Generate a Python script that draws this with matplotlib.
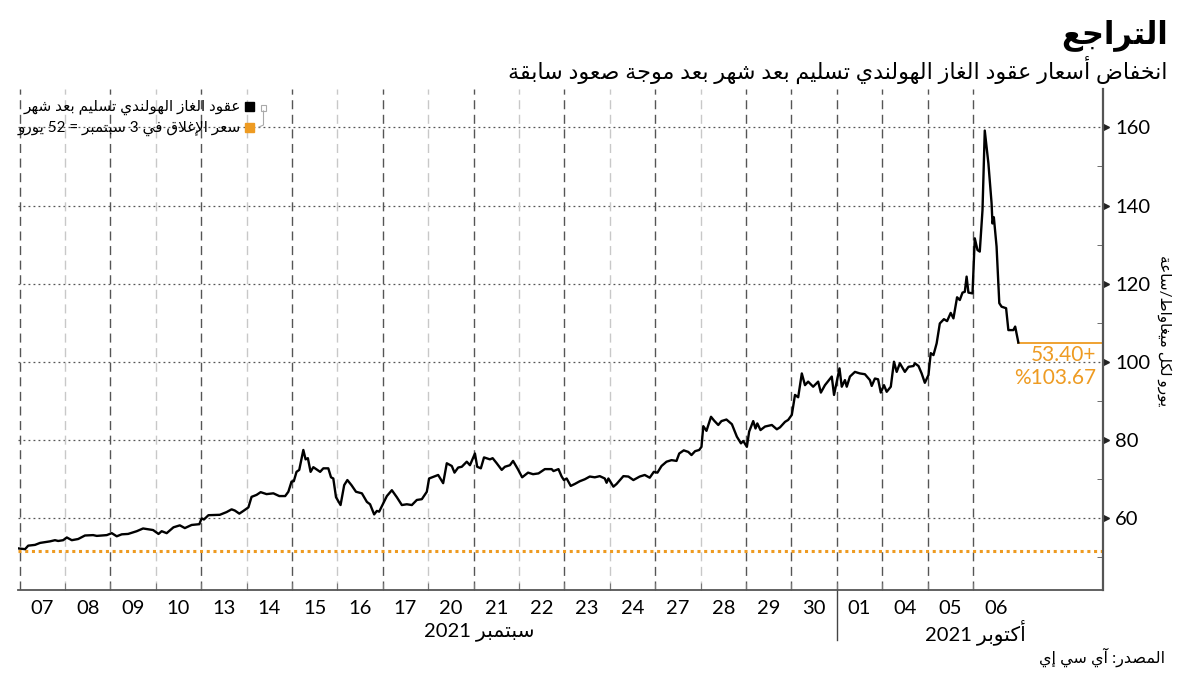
import re
import matplotlib
matplotlib.use("Agg")
import matplotlib.pyplot as plt
import matplotlib.transforms as mtransforms
from matplotlib.patches import Rectangle
from matplotlib.lines import Line2D
import numpy as np

# ---- data -------------------------------------------------------------
day_labels = ["07", "08", "09", "10", "13", "14", "15", "16", "17", "20", "21",
              "22", "23", "24", "27", "28", "29", "30", "01", "04", "05", "06"]
month_labels = ["سبتمبر 2021", "أكتوبر 2021"]
october_start = 18  # index of first October session

# position in trading days (0 = start of 07 Sep) and price in EUR/MWh
t = [-0.03, 0.12, 0.19, 0.34, 0.45, 0.56, 0.67, 0.78, 0.85, 0.96, 1.04, 1.15, 1.29, 1.44,
     1.62, 1.70, 1.92, 2.03, 2.14, 2.25, 2.39, 2.58, 2.72, 2.94, 3.06, 3.13, 3.24, 3.39,
     3.53, 3.64, 3.79, 3.96, 4.01, 4.06, 4.16, 4.41, 4.56, 4.67, 4.74, 4.84, 4.93, 5.04,
     5.11, 5.22, 5.31, 5.44, 5.59, 5.72, 5.85, 5.92, 5.99, 6.04, 6.10, 6.16, 6.25, 6.30,
     6.35, 6.41, 6.47, 6.62, 6.69, 6.80, 6.86, 6.91, 6.97, 7.07, 7.15, 7.22, 7.31, 7.41,
     7.54, 7.65, 7.72, 7.81, 7.87, 7.92, 7.98, 8.09, 8.20, 8.31, 8.42, 8.53, 8.64, 8.75,
     8.86, 8.97, 9.02, 9.11, 9.22, 9.33, 9.41, 9.52, 9.58, 9.66, 9.74, 9.85, 9.92, 10.03,
     10.08, 10.16, 10.23, 10.36, 10.42, 10.51, 10.62, 10.69, 10.80, 10.87, 10.98, 11.07,
     11.20, 11.31, 11.43, 11.57, 11.72, 11.76, 11.87, 11.94, 11.99, 12.05, 12.14, 12.23,
     12.34, 12.45, 12.56, 12.67, 12.78, 12.89, 12.93, 12.97, 13.08, 13.15, 13.30, 13.41,
     13.52, 13.66, 13.77, 13.88, 13.97, 14.05, 14.14, 14.25, 14.36, 14.47, 14.53, 14.63,
     14.73, 14.80, 14.88, 14.97, 15.02, 15.06, 15.13, 15.23, 15.30, 15.39, 15.46, 15.57,
     15.69, 15.80, 15.89, 15.94, 16.02, 16.07, 16.16, 16.21, 16.25, 16.32, 16.42, 16.57,
     16.68, 16.75, 16.86, 16.93, 17.01, 17.08, 17.15, 17.23, 17.30, 17.37, 17.48, 17.59,
     17.65, 17.74, 17.89, 17.94, 18.06, 18.11, 18.18, 18.22, 18.29, 18.40, 18.51, 18.62,
     18.73, 18.77, 18.84, 18.91, 18.97, 19.04, 19.10, 19.19, 19.26, 19.32, 19.39, 19.50,
     19.58, 19.69, 19.72, 19.80, 19.87, 19.94, 20.02, 20.07, 20.13, 20.20, 20.27, 20.36,
     20.43, 20.51, 20.57, 20.65, 20.71, 20.77, 20.82, 20.86, 20.90, 20.99, 21.04, 21.10,
     21.15, 21.21, 21.26, 21.34, 21.41, 21.43, 21.46, 21.52, 21.58, 21.63, 21.73, 21.78,
     21.89, 21.93, 22.00]
price = [52.2, 52.0, 52.9, 53.1, 53.6, 53.8, 54.0, 54.3, 54.1, 54.3, 55.0, 54.3, 54.6, 55.5,
         55.6, 55.4, 55.6, 56.1, 55.3, 55.8, 55.9, 56.6, 57.3, 56.9, 55.9, 56.6, 56.1, 57.6,
         58.1, 57.4, 58.2, 58.4, 59.9, 59.6, 60.7, 60.8, 61.5, 62.2, 61.9, 61.1, 61.8, 62.7,
         65.4, 65.9, 66.6, 66.1, 66.3, 65.6, 65.6, 66.7, 69.3, 69.4, 71.8, 72.3, 77.4, 75.0,
         75.3, 71.8, 73.0, 71.8, 72.7, 72.7, 70.4, 70.1, 65.3, 63.3, 68.4, 69.7, 68.4, 66.7,
         66.3, 64.1, 63.5, 60.9, 61.8, 61.6, 63.0, 65.6, 67.1, 65.3, 63.3, 63.5, 63.3, 64.6,
         64.8, 66.7, 70.1, 70.5, 71.0, 68.9, 74.0, 73.3, 71.6, 72.9, 73.1, 74.4, 73.5, 76.5,
         73.1, 72.7, 75.5, 75.0, 75.3, 74.0, 72.3, 73.1, 73.5, 74.6, 72.4, 70.4,
         71.6, 71.2, 71.4, 72.5, 72.5, 72.0, 72.5, 70.6, 69.7, 70.1, 68.2, 68.7,
         69.4, 69.9, 70.6, 70.4, 70.7, 70.1, 69.0, 70.1, 68.0, 68.7, 70.7, 70.6,
         69.7, 70.6, 71.0, 70.3, 71.8, 71.6, 73.3, 74.4, 74.8, 74.6, 76.5, 77.3,
         76.9, 76.1, 77.1, 77.4, 78.2, 83.5, 82.3, 85.9, 84.9, 83.8, 84.8, 85.2,
         84.0, 80.8, 79.1, 79.7, 78.2, 82.1, 84.8, 82.9, 84.2, 82.5, 83.4, 83.8,
         82.7, 83.2, 84.6, 85.1, 86.4, 91.5, 90.9, 97.0, 94.0, 94.9, 93.6, 94.9,
         92.1, 94.0, 96.2, 91.5, 98.3, 93.6, 95.3, 93.6, 96.2, 97.4, 97.0, 96.8,
         95.3, 93.8, 95.7, 95.5, 92.1, 94.0, 92.3, 93.6, 100.0, 97.4, 99.6, 97.4,
         98.7, 98.9, 99.6, 98.9, 97.0, 94.6, 96.6, 102.2, 101.7, 104.7, 109.8, 110.9,
         110.4, 112.5, 111.1, 116.5, 115.8, 117.7, 117.9, 121.8, 117.7, 117.5, 131.6, 128.6,
         128.2, 138.8, 159.2, 150.8, 140.6, 135.4, 137.0, 129.5, 115.0, 114.1, 113.7, 108.1,
         108.1, 109.0, 104.91]
base_close = 51.51  # close on 3 Sep
change_abs = "+53.40"
change_pct = "103.67%"
y_ticks = [60, 80, 100, 120, 140, 160]
y_minor = [50, 70, 90, 110, 130, 150]

title = "التراجع"
subtitle = "انخفاض أسعار عقود الغاز الهولندي تسليم بعد شهر بعد موجة صعود سابقة"
legend_labels = ["عقود الغاز الهولندي تسليم بعد شهر", "سعر الإغلاق في 3 سبتمبر = 52 يورو"]
y_label = "يورو لكل ميغاواط/ساعة"
source = "المصدر: آي سي إي"

ORANGE = "#EE9B22"

# ---- arabic shaping (matplotlib has no complex text layout) -----------
AR_FORMS = {
    'ء': (0xFE80, 1), 'آ': (0xFE81, 2), 'أ': (0xFE83, 2), 'ؤ': (0xFE85, 2), 'إ': (0xFE87, 2),
    'ئ': (0xFE89, 4), 'ا': (0xFE8D, 2), 'ب': (0xFE8F, 4), 'ة': (0xFE93, 2), 'ت': (0xFE95, 4),
    'ث': (0xFE99, 4), 'ج': (0xFE9D, 4), 'ح': (0xFEA1, 4), 'خ': (0xFEA5, 4), 'د': (0xFEA9, 2),
    'ذ': (0xFEAB, 2), 'ر': (0xFEAD, 2), 'ز': (0xFEAF, 2), 'س': (0xFEB1, 4), 'ش': (0xFEB5, 4),
    'ص': (0xFEB9, 4), 'ض': (0xFEBD, 4), 'ط': (0xFEC1, 4), 'ظ': (0xFEC5, 4), 'ع': (0xFEC9, 4),
    'غ': (0xFECD, 4), 'ف': (0xFED1, 4), 'ق': (0xFED5, 4), 'ك': (0xFED9, 4), 'ل': (0xFEDD, 4),
    'م': (0xFEE1, 4), 'ن': (0xFEE5, 4), 'ه': (0xFEE9, 4), 'و': (0xFEED, 2), 'ى': (0xFEEF, 2),
    'ي': (0xFEF1, 4),
}
LAM_ALEF = {'آ': 0xFEF5, 'أ': 0xFEF7, 'إ': 0xFEF9, 'ا': 0xFEFB}


def shape(s):
    items = []
    i = 0
    while i < len(s):
        c = s[i]
        if c == 'ل' and i + 1 < len(s) and s[i + 1] in LAM_ALEF:
            items.append((LAM_ALEF[s[i + 1]], 2))
            i += 2
            continue
        items.append(AR_FORMS.get(c, (c, 0)))
        i += 1
    out = []
    for k, (base, n) in enumerate(items):
        if n == 0:
            out.append(base)
            continue
        prev = n >= 2 and k > 0 and items[k - 1][1] == 4
        nxt = n == 4 and k + 1 < len(items) and items[k + 1][1] >= 2
        if n == 4 and prev and nxt:
            code = base + 3
        elif prev:
            code = base + 1
        elif nxt:
            code = base + 2
        else:
            code = base
        out.append(chr(code))
    return "".join(out)


def ar(s):
    runs = re.findall(r"[0-9]+(?:[.,][0-9]+)*|[^0-9]+", shape(s))
    vis = [r if r[0].isdigit() else r[::-1] for r in runs]
    return "".join(reversed(vis))


# ---- figure -----------------------------------------------------------
plt.rcParams['font.family'] = ['Lato', 'DejaVu Sans']

fig = plt.figure(figsize=(12, 6.75), dpi=100)
ax = fig.add_axes([0.015, 0.1259, 0.904, 0.7422])

x_right = 23.86
ax.set_xlim(-0.035, x_right)
ax.set_ylim(41.54, 169.83)

# grid
for y in y_ticks:
    ax.axhline(y, color="#555555", lw=0.9, ls=(0, (1.5, 2.5)), zorder=1)
for b in range(0, len(day_labels)):
    dark = b % 2 == 0 or b >= 17
    ax.axvline(b, color="#555555" if dark else "#c8c8c8", lw=1.0,
               ls=(0, (6.5, 4)), zorder=1)

ax.axhline(base_close, color=ORANGE, lw=2.2, ls=(0, (1, 1.2)), zorder=2)
ax.plot(t, price, color="black", lw=1.7, zorder=3)
ax.plot([t[-1], x_right], [price[-1], price[-1]], color=ORANGE, lw=1.3, zorder=2)

# spines
for side in ["left", "top"]:
    ax.spines[side].set_visible(False)
ax.spines["right"].set_color("#555555")
ax.spines["right"].set_linewidth(1.6)
ax.spines["bottom"].set_color("#555555")
ax.spines["bottom"].set_linewidth(1.3)

# x ticks: marks at session boundaries, labels centred on sessions
ax.set_xticks(np.arange(1, len(day_labels)))
ax.set_xticklabels([])
ax.set_xticks(np.arange(len(day_labels)) + 0.5, minor=True)
ax.set_xticklabels(day_labels, minor=True)
ax.tick_params(axis="x", which="major", direction="in", length=5, color="#777777")
ax.tick_params(axis="x", which="minor", length=0, pad=7, labelsize=14.5)

# y ticks on the right
ax.yaxis.tick_right()
ax.set_yticks(y_ticks)
ax.set_yticklabels([str(v) for v in y_ticks])
ax.set_yticks(y_minor, minor=True)
ax.tick_params(axis="y", which="major", length=0, pad=9, labelsize=14.5)
ax.tick_params(axis="y", which="minor", direction="in", length=4, color="#555555")
trans = mtransforms.blended_transform_factory(ax.transAxes, ax.transData)
ax.plot(np.ones(len(y_ticks)), y_ticks, ls="none", marker=">", ms=5, color="#222222",
        transform=trans + mtransforms.ScaledTranslation(3 / 100, 0, fig.dpi_scale_trans),
        clip_on=False)

# month separator and labels
tx = mtransforms.blended_transform_factory(ax.transData, ax.transAxes)
ax.add_line(Line2D([october_start, october_start], [0, -0.1], transform=tx,
                   color="#444444", lw=1, clip_on=False))
fig.text(479 / 1200, 1 - 632 / 675, ar(month_labels[0]), ha="center", va="center", fontsize=14.5)
fig.text(975 / 1200, 1 - 632 / 675, ar(month_labels[1]), ha="center", va="center", fontsize=14.5)

# change annotation
fig.text(1096 / 1200, 1 - 355 / 675, ar(change_abs), ha="right", va="center",
         fontsize=15, color=ORANGE)
fig.text(1096 / 1200, 1 - 378 / 675, ar(change_pct), ha="right", va="center",
         fontsize=15, color=ORANGE)

# y label
fig.text(1164 / 1200, 1 - 331 / 675, ar(y_label), rotation=270, ha="center", va="center",
         fontsize=11)

# titles
fig.text(1168 / 1200, 1 - 35 / 675, ar(title), ha="right", va="center",
         fontsize=22, fontweight="bold")
fig.text(1168 / 1200, 1 - 70 / 675, ar(subtitle), ha="right", va="center", fontsize=16)

# legend
for k, (lab, col) in enumerate(zip(legend_labels, ["black", ORANGE])):
    py = 107 + k * 21
    fig.add_artist(Rectangle((245 / 1200, 1 - (py + 4) / 675), 9 / 1200, 9 / 675,
                             transform=fig.transFigure, color=col))
    fig.text(241 / 1200, 1 - py / 675, ar(lab), ha="right", va="center", fontsize=11)
fig.add_artist(Rectangle((261 / 1200, 1 - 111 / 675), 5 / 1200, 6 / 675,
                         transform=fig.transFigure, fill=False, ec="#aaaaaa", lw=0.8))
fig.add_artist(Line2D([263.5 / 1200, 263.5 / 1200, 259 / 1200],
                      [1 - 111 / 675, 1 - 125 / 675, 1 - 127 / 675],
                      transform=fig.transFigure, color="#aaaaaa", lw=0.8))

# source
fig.text(1165 / 1200, 1 - 657 / 675, ar(source), ha="right", va="center", fontsize=11.5)

fig.savefig("out.png", dpi=100)
plt.close()
print("Wrote out.png")
